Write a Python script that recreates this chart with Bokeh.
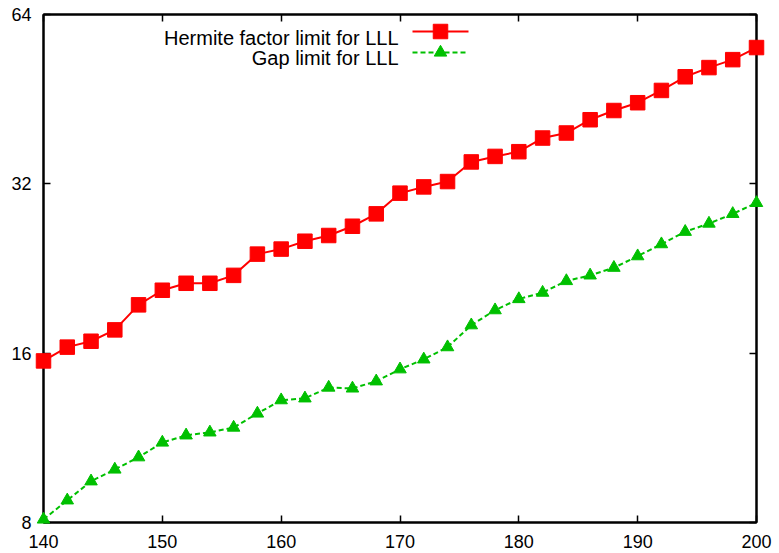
from bokeh.plotting import figure
from bokeh.models import (Range1d, FixedTicker, LinearAxis, LogAxis, Label,
                          NumeralTickFormatter, CustomJSTickFormatter, ColumnDataSource)
from bokeh.embed import file_html
from bokeh.resources import INLINE

# Lattice dimension
dims = [140, 142, 144, 146, 148, 150, 152, 154, 156, 158, 160, 162, 164, 166, 168, 170,
        172, 174, 176, 178, 180, 182, 184, 186, 188, 190, 192, 194, 196, 198, 200]

# Hermite factor limit for LLL
hermite = [15.5, 16.4, 16.8, 17.6, 19.5, 20.7, 21.3, 21.3, 22.0, 24.0, 24.5, 25.3, 25.9,
           26.9, 28.3, 30.8, 31.6, 32.3, 35.0, 35.8, 36.5, 38.6, 39.4, 41.6, 43.2, 44.6,
           46.9, 49.6, 51.5, 53.2, 55.9]

# Gap limit for LLL
gap = [8.1, 8.76, 9.47, 9.94, 10.45, 11.1, 11.43, 11.57, 11.8, 12.5, 13.2, 13.3, 13.9,
       13.85, 14.26, 14.98, 15.6, 16.4, 17.94, 19.08, 19.97, 20.5, 21.5, 22.0, 22.7, 23.8,
       25.0, 26.3, 27.2, 28.3, 29.6]

x_ticks = [140, 150, 160, 170, 180, 190, 200]
y_ticks = [8, 16, 32, 64]
series_names = ["Hermite factor limit for LLL", "Gap limit for LLL"]

RED = "#ff0000"
GREEN = "#00c000"
FONT = "Liberation Sans"

W, H = 779, 553
LEFT, RIGHT, TOP, BOTTOM = 43, 23, 14, 31
X0, X1 = 140, 200
Y0, Y1 = 8, 64

p = figure(width=W, height=H, output_backend="svg", toolbar_location=None,
           x_range=Range1d(X0, X1), y_range=Range1d(Y0, Y1), y_axis_type="log",
           min_border_left=LEFT, min_border_right=RIGHT,
           min_border_top=TOP, min_border_bottom=BOTTOM)
p.background_fill_color = "white"
p.border_fill_color = "white"
p.grid.visible = False
p.outline_line_color = "black"
p.outline_line_width = 2


def style_axis(ax):
    ax.axis_line_color = "black"
    ax.axis_line_width = 2
    ax.major_tick_in = 7
    ax.major_tick_out = 0
    ax.major_tick_line_color = "black"
    ax.major_tick_line_width = 1.5
    ax.minor_tick_line_color = None
    ax.major_label_text_font = FONT
    ax.major_label_text_font_size = "18px"
    ax.major_label_text_color = "black"


p.xaxis.ticker = FixedTicker(ticks=x_ticks)
p.yaxis.ticker = FixedTicker(ticks=y_ticks)
p.yaxis.formatter = NumeralTickFormatter(format="0")
style_axis(p.xaxis[0])
style_axis(p.yaxis[0])
p.xaxis.major_label_standoff = 12
p.yaxis.major_label_standoff = 12

# mirrored ticks on the top and right edges, without labels
blank = CustomJSTickFormatter(code="return ''")
top_ax = LinearAxis(ticker=FixedTicker(ticks=x_ticks), formatter=blank)
right_ax = LogAxis(ticker=FixedTicker(ticks=y_ticks), formatter=blank)
for ax in (top_ax, right_ax):
    style_axis(ax)
    ax.major_label_standoff = 0
p.add_layout(top_ax, "above")
p.add_layout(right_ax, "right")

src = ColumnDataSource(dict(x=dims, h=hermite, g=gap))

p.line("x", "h", source=src, line_color=RED, line_width=2)
p.scatter("x", "h", source=src, marker="square", size=14.5,
          fill_color=RED, line_color=RED, level="overlay")

p.line("x", "g", source=src, line_color=GREEN, line_width=2, line_dash="5 3")
p.scatter("x", "g", source=src, marker="triangle", size=12.5,
          fill_color=GREEN, line_color=GREEN, level="overlay")

# legend: text right-aligned, sample line and marker to its right
frame_w = W - LEFT - RIGHT
frame_h = H - TOP - BOTTOM


def sx(px):
    return X0 + (px - LEFT) / frame_w * (X1 - X0)


def sy(py):
    return Y0 * (Y1 / Y0) ** ((H - BOTTOM - py) / frame_h)


rows = [(series_names[0], 37, 31, RED, "solid", "square", 14.5),
        (series_names[1], 57, 52, GREEN, "5 3", "triangle", 12.5)]
for name, base_py, line_py, color, dash, marker, size in rows:
    p.add_layout(Label(x=sx(398), y=sy(base_py), text=name, text_align="right",
                       text_baseline="alphabetic", text_font=FONT,
                       text_font_size="20px", text_color="black"))
    p.line([sx(412), sx(468)], [sy(line_py), sy(line_py)], line_color=color,
           line_width=2, line_dash=dash)
    p.scatter([sx(440)], [sy(line_py)], marker=marker, size=size,
              fill_color=color, line_color=color)

open("out.html", "w").write(file_html(p, INLINE))
